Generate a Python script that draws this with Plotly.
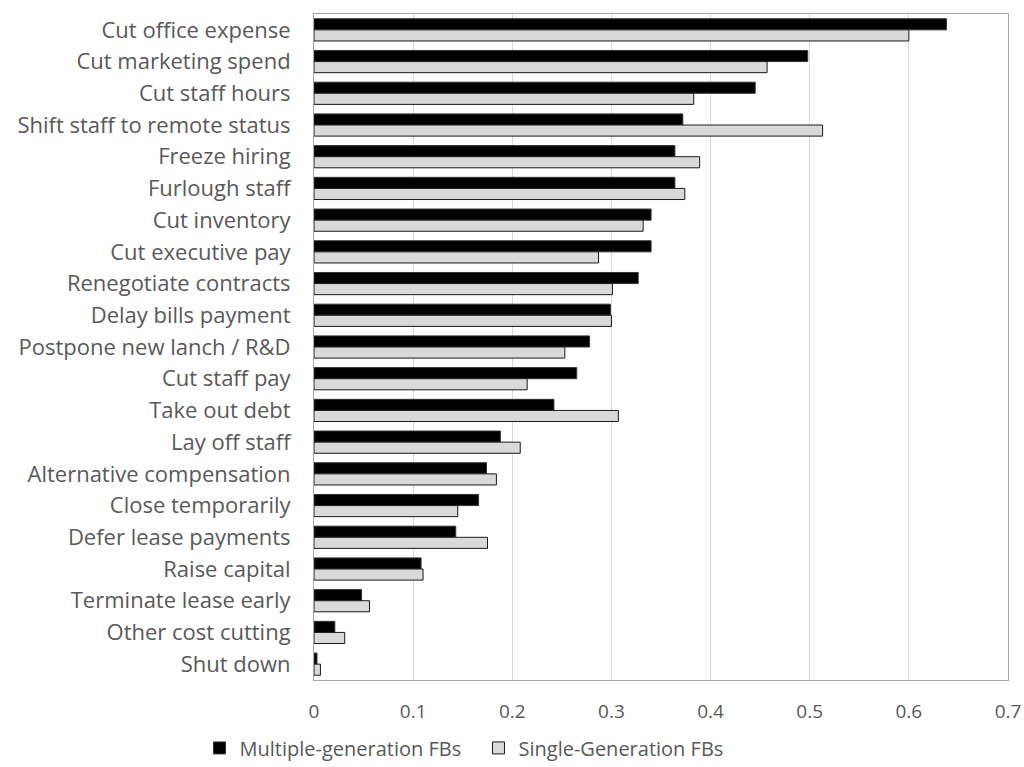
import plotly.graph_objects as go

categories = [
    "Cut office expense", "Cut marketing spend", "Cut staff hours",
    "Shift staff to remote status", "Freeze hiring", "Furlough staff",
    "Cut inventory", "Cut executive pay", "Renegotiate contracts",
    "Delay bills payment", "Postpone new lanch / R&D", "Cut staff pay",
    "Take out debt", "Lay off staff", "Alternative compensation",
    "Close temporarily", "Defer lease payments", "Raise capital",
    "Terminate lease early", "Other cost cutting", "Shut down",
]
multi_gen = [0.638, 0.498, 0.445, 0.372, 0.364, 0.364, 0.340, 0.340, 0.327,
             0.299, 0.278, 0.265, 0.242, 0.188, 0.174, 0.166, 0.143, 0.108,
             0.048, 0.021, 0.003]
single_gen = [0.600, 0.457, 0.383, 0.513, 0.389, 0.374, 0.332, 0.287, 0.301,
              0.300, 0.253, 0.215, 0.307, 0.208, 0.184, 0.145, 0.175, 0.110,
              0.056, 0.031, 0.0065]
x_ticks = [0, 0.1, 0.2, 0.3, 0.4, 0.5, 0.6, 0.7]
tick_labels = ["0", "0.1", "0.2", "0.3", "0.4", "0.5", "0.6", "0.7"]

font_family = "'Open Sans', sans-serif"
text_color = "#595959"

fig = go.Figure()
fig.add_trace(go.Bar(
    y=categories, x=multi_gen, orientation="h", name="Multiple-generation FBs",
    marker=dict(color="#000000", line=dict(color="#333333", width=1)),
))
fig.add_trace(go.Bar(
    y=categories, x=single_gen, orientation="h", name="Single-Generation FBs",
    marker=dict(color="#d9d9d9", line=dict(color="#1a1a1a", width=1)),
))

fig.update_layout(
    width=1024, height=767,
    margin=dict(l=314, r=16, t=14, b=87, autoexpand=False),
    paper_bgcolor="white", plot_bgcolor="white",
    barmode="group", bargap=0.3, bargroupgap=0,
    font=dict(family=font_family, size=19, color=text_color),
    showlegend=True,
    legend=dict(orientation="h", x=-0.165, xanchor="left", y=-0.102, yanchor="middle",
                font=dict(size=20, color=text_color), traceorder="normal",
                entrywidth=234, entrywidthmode="pixels"),
    xaxis=dict(
        range=[0, 0.7], tickvals=x_ticks, ticktext=tick_labels,
        showgrid=True, gridcolor="#d9d9d9", gridwidth=1,
        zeroline=False, showline=True, linecolor="#a6a6a6", mirror=True,
        ticks="outside", ticklen=14, tickcolor="rgba(0,0,0,0)",
        tickfont=dict(size=19, color=text_color), automargin=False,
    ),
    yaxis=dict(
        autorange="reversed", showgrid=False, zeroline=False,
        showline=True, linecolor="#a6a6a6", mirror=True,
        ticks="outside", ticklen=18, tickcolor="rgba(0,0,0,0)",
        tickfont=dict(size=22, color=text_color), automargin=False,
    ),
)

fig.write_html("out.html")
